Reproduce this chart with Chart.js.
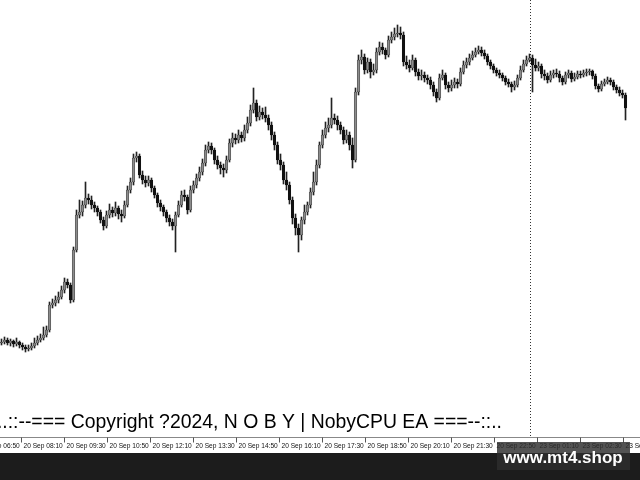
<!DOCTYPE html>
<html>
<head>
<meta charset="utf-8">
<script src="https://cdn.jsdelivr.net/npm/chart.js@4.4.1/dist/chart.umd.min.js"></script>
<style>
  html,body{margin:0;padding:0;background:#fff;overflow:hidden}
  canvas{display:block}
</style>
</head>
<body>
<canvas id="chart" width="640" height="480"></canvas>
<script>
/* ===== Data (price units, one entry per candle) ===== */
const opens = [57,58,60,57,59,56,58,55,53,51,
  52,54,57,60,62,65,70,95,97,100,
  103,110,118,115,100,150,185,188,195,202,
  200,195,192,188,180,174,185,190,187,192,
  186,184,195,210,218,242,244,225,220,217,
  220,212,205,197,193,188,182,178,174,185,
  195,205,203,190,210,215,222,228,237,250,
  254,250,240,235,232,230,240,257,262,260,
  265,262,270,277,290,297,283,288,285,282,
  275,265,255,240,235,220,215,200,182,172,
  165,180,188,195,208,218,235,255,265,272,
  275,282,280,275,270,260,265,255,240,308,
  340,343,330,338,328,330,348,353,350,345,
  360,363,366,367,365,338,335,332,340,328,
  324,325,322,320,315,308,302,322,325,315,
  312,315,318,316,328,335,338,342,345,348,
  350,347,344,338,334,330,327,325,322,318,
  316,313,315,322,330,336,340,342,335,332,
  334,326,324,320,325,327,326,322,318,325,
  327,321,323,326,325,327,328,329,324,314,
  311,316,318,320,318,313,310,307,305];
const highs = [61,63,62,61,60,62,59,57,55,55,
  57,62,64,66,73,74,98,101,104,108,
  114,122,121,117,153,190,200,199,218,206,
  204,198,194,190,183,189,196,193,198,194,
  190,199,214,222,246,248,246,229,224,224,
  222,214,207,200,195,190,185,181,188,199,
  209,210,205,214,219,226,233,241,255,258,
  257,252,244,238,236,244,261,267,266,270,
  268,275,283,295,312,300,294,292,293,285,
  278,268,258,246,238,228,218,203,186,176,
  183,195,198,212,228,240,258,270,278,282,
  302,286,284,278,273,270,268,262,312,345,
  350,346,342,341,336,352,358,357,352,364,
  368,372,375,373,368,344,340,345,342,331,
  330,328,325,323,318,311,326,330,327,318,
  320,322,321,332,339,342,346,349,352,354,
  353,350,346,340,336,332,330,327,324,321,
  318,319,325,334,340,344,346,345,341,338,
  336,330,327,329,330,331,329,324,328,330,
  329,327,329,329,330,331,331,330,326,316,
  319,321,323,322,320,315,313,310,307];
const lows = [55,56,55,54,53,54,52,50,48,49,
  50,52,55,58,60,63,68,92,94,97,
  101,107,112,97,98,148,182,184,192,196,
  191,188,184,177,170,172,182,183,184,181,
  178,182,193,207,215,238,222,216,213,214,
  208,202,193,189,184,178,174,170,148,183,
  193,199,186,188,207,212,219,225,234,247,
  246,236,231,226,223,227,238,253,256,257,
  258,259,267,274,287,279,280,281,278,270,
  260,250,236,230,216,210,196,176,165,148,
  160,176,185,192,205,215,232,252,262,268,
  272,276,270,266,256,257,250,232,238,305,
  336,326,327,322,325,327,345,346,341,343,
  357,360,363,361,334,331,328,330,324,320,
  320,318,316,311,304,298,300,320,311,308,
  309,312,312,314,326,332,335,340,343,346,
  344,341,335,331,327,324,322,319,315,313,
  308,310,313,320,328,334,338,308,329,329,
  322,320,317,318,322,323,318,315,316,322,
  318,319,321,322,323,324,325,321,311,308,
  309,314,316,315,310,307,304,302,280];
const closes = [58,60,57,59,56,58,55,53,51,52,
  54,57,60,62,65,70,95,97,100,103,
  110,118,115,100,150,185,188,195,202,200,
  195,192,188,180,174,185,190,187,192,186,
  184,195,210,218,242,244,225,220,217,220,
  212,205,197,193,188,182,178,174,185,195,
  205,203,190,210,215,222,228,237,250,254,
  250,240,235,232,230,240,257,262,260,265,
  262,270,277,290,297,283,288,285,282,275,
  265,255,240,235,220,215,200,182,172,165,
  180,188,195,208,218,235,255,265,272,275,
  282,280,275,270,260,265,255,240,308,340,
  343,330,338,328,330,348,353,350,345,360,
  363,366,367,365,338,335,332,340,328,324,
  325,322,320,315,308,302,322,325,315,312,
  315,318,316,328,335,338,342,345,348,350,
  347,344,338,334,330,327,325,322,318,316,
  313,315,322,330,336,340,342,335,332,334,
  326,324,320,325,327,326,322,318,325,327,
  321,323,326,325,327,328,329,324,314,311,
  316,318,320,318,313,310,307,305,292];

/* time labels and the bar index where each one sits */
const tickLabels = ['20 Sep 06:50','20 Sep 08:10','20 Sep 09:30','20 Sep 10:50','20 Sep 12:10',
  '20 Sep 13:30','20 Sep 14:50','20 Sep 16:10','20 Sep 17:30','20 Sep 18:50','20 Sep 20:10',
  '20 Sep 21:30','20 Sep 22:50','23 Sep 01:10','23 Sep 02:30','23 Sep 03:50'];
const tickAt = [-7.83,6.5,20.83,35.17,49.5,63.83,78.17,92.5,106.83,121.17,135.5,149.83,164.17,178.5,192.83,207.17];
const separatorAt = 176.17;
const copyrightText = '..::--=== Copyright ?2024, N O B Y | NobyCPU EA ===--::..';
const watermarkText = 'www.mt4.shop';

/* ===== Candles as floating bars ===== */
const wicks = highs.map((h,i)=>({x:i, y:[lows[i], h]}));
const bodies = opens.map((o,i)=>({x:i, y:[o, closes[i]]}));
const isUp = opens.map((o,i)=> closes[i]>=o);
const bodyColors = isUp.map(u=> u ? '#8c8c8c' : '#111111');
const bodyBorders = isUp.map(u=> u ? '#3a3a3a' : '#111111');

/* ===== Decorations: separator, time axis, copyright, watermark ===== */
const decor = {
  id:'decor',
  beforeDraw(chart){
    const ctx = chart.ctx;
    ctx.save(); ctx.fillStyle='#fff'; ctx.fillRect(0,0,chart.width,chart.height); ctx.restore();
  },
  afterDraw(chart){
    const ctx = chart.ctx, xs = chart.scales.x, area = chart.chartArea;
    ctx.save();

    // day separator (dotted)
    const sx = Math.round(xs.getPixelForValue(separatorAt)) + 0.5;
    ctx.strokeStyle='#333'; ctx.lineWidth=1; ctx.setLineDash([1,2]);
    ctx.beginPath(); ctx.moveTo(sx, area.top); ctx.lineTo(sx, area.bottom); ctx.stroke();
    ctx.setLineDash([]);

    // time axis line
    const ay = area.bottom + 0.5;
    ctx.strokeStyle='#888';
    ctx.beginPath(); ctx.moveTo(0, ay); ctx.lineTo(chart.width, ay); ctx.stroke();

    // ticks + labels
    ctx.font='6.6px "Liberation Sans", Arial, sans-serif';
    ctx.fillStyle='#111'; ctx.textAlign='left'; ctx.textBaseline='alphabetic';
    tickLabels.forEach((t,i)=>{
      const px = Math.round(xs.getPixelForValue(tickAt[i])) + 0.5;
      ctx.strokeStyle='#555';
      ctx.beginPath(); ctx.moveTo(px, ay); ctx.lineTo(px, ay+5); ctx.stroke();
      ctx.fillText(t, px+2, ay+10);
    });

    // copyright line
    ctx.font='19.4px "Liberation Sans", Arial, sans-serif';
    ctx.fillStyle='#000'; ctx.textAlign='right';
    ctx.fillText(copyrightText, 502, 428);

    // dark band at the bottom
    ctx.fillStyle='#1c1c1c';
    ctx.fillRect(0, 453, chart.width, chart.height-453);

    // watermark
    ctx.fillStyle='rgba(45,45,45,0.82)';
    ctx.fillRect(497, 442, 133, 28);
    ctx.font='bold 17px "Liberation Sans", Arial, sans-serif';
    ctx.fillStyle='#fff'; ctx.textAlign='center';
    ctx.fillText(watermarkText, 563, 463);

    ctx.restore();
  }
};

new Chart(document.getElementById('chart'), {
  type:'bar',
  data:{ datasets:[
    { data:bodies, backgroundColor:bodyColors, borderColor:bodyBorders, borderWidth:0.6,
      borderSkipped:false, barThickness:2.6, grouped:false, order:0 },
    { data:wicks, backgroundColor:'#222', barThickness:1, grouped:false, order:1 }
  ]},
  options:{
    responsive:false, devicePixelRatio:1, animation:false,
    layout:{ padding:{ left:0, right:0, top:0, bottom:43 } },
    plugins:{ legend:{display:false}, tooltip:{enabled:false} },
    scales:{
      x:{ type:'linear', min:-0.5, max:212.83, offset:false, display:false, grid:{display:false} },
      y:{ min:-37, max:400, display:false, grid:{display:false} }
    }
  },
  plugins:[decor]
});
</script>
</body>
</html>
